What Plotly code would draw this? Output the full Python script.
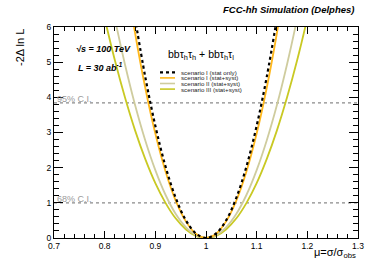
import plotly.graph_objects as go

# ---- data ----
mu_stat_only = [0.86, 0.88, 0.90, 0.92, 0.94, 0.96, 0.98, 1.00, 1.02, 1.04, 1.06, 1.08, 1.10, 1.12, 1.14]
nll_stat_only = [6.25, 4.59, 3.19, 2.04, 1.15, 0.51, 0.13, 0.0, 0.13, 0.51, 1.15, 2.04, 3.19, 4.59, 6.25]

mu_sc1 = [0.84, 0.86, 0.88, 0.90, 0.92, 0.94, 0.96, 0.98, 1.00, 1.02, 1.04, 1.06, 1.08, 1.10, 1.12, 1.14, 1.16]
nll_sc1 = [7.61, 5.83, 4.28, 2.97, 1.90, 1.07, 0.48, 0.12, 0.0, 0.12, 0.48, 1.07, 1.90, 2.97, 4.28, 5.83, 7.61]

mu_sc2 = [0.80, 0.82, 0.84, 0.86, 0.88, 0.90, 0.92, 0.94, 0.96, 0.98, 1.00,
          1.02, 1.04, 1.06, 1.08, 1.10, 1.12, 1.14, 1.16, 1.18, 1.20]
nll_sc2 = [7.72, 6.25, 4.94, 3.78, 2.78, 1.93, 1.23, 0.69, 0.31, 0.08, 0.0,
           0.08, 0.31, 0.69, 1.23, 1.93, 2.78, 3.78, 4.94, 6.25, 7.72]

mu_sc3 = [0.78, 0.80, 0.82, 0.84, 0.86, 0.88, 0.90, 0.92, 0.94, 0.96, 0.98, 1.00,
          1.02, 1.04, 1.06, 1.08, 1.10, 1.12, 1.14, 1.16, 1.18, 1.20, 1.22]
nll_sc3 = [7.56, 6.25, 5.06, 4.00, 3.06, 2.25, 1.56, 1.00, 0.56, 0.25, 0.06, 0.0,
           0.06, 0.25, 0.56, 1.00, 1.56, 2.25, 3.06, 4.00, 5.06, 6.25, 7.56]

ci_levels = [3.84, 1.0]
ci_labels = ["95% C.I.", "68% C.I."]

legend_labels = ["scenario I (stat only)", "scenario I (stat+syst)",
                 "scenario II (stat+syst)", "scenario III (stat+syst)"]

# ---- styles ----
C_BLACK = "#000000"
C_ORANGE = "#FFB81C"
C_BEIGE = "#CFCC9E"
C_YELLOW = "#C9C923"
FONT = "Liberation Sans, Arial, Helvetica, sans-serif"

W, H = 390, 265
L, R, T, B = 54, 32, 27, 27
PW, PH = W - L - R, H - T - B


def px(x):
    return (x - L) / PW


def py(y):
    return (H - B - y) / PH


fig = go.Figure()

series = [
    (mu_sc3, nll_sc3, C_YELLOW, "solid", 1.8),
    (mu_sc2, nll_sc2, C_BEIGE, "solid", 1.8),
    (mu_sc1, nll_sc1, C_ORANGE, "solid", 1.8),
    (mu_stat_only, nll_stat_only, C_BLACK, "dot", 2.2),
]
for xs, ys, col, dash, w in series:
    fig.add_trace(go.Scatter(x=xs, y=ys, mode="lines",
                             line=dict(color=col, dash=dash, width=w, shape="spline", smoothing=1.0),
                             showlegend=False, hoverinfo="skip", cliponaxis=True))

shapes = []
annotations = []

for lvl, lab in zip(ci_levels, ci_labels):
    shapes.append(dict(type="line", xref="paper", yref="y", x0=0, x1=1, y0=lvl, y1=lvl,
                       line=dict(color="#8a8a8a", width=1.3, dash="dot"), layer="below"))
    annotations.append(dict(xref="x", yref="y", x=0.702, y=lvl, text=lab, showarrow=False,
                            xanchor="left", yanchor="bottom", yshift=-3,
                            font=dict(family=FONT, size=9, color="#9a9a9a")))

# legend (drawn manually)
leg_cols = [C_BLACK, C_ORANGE, C_BEIGE, C_YELLOW]
leg_dash = ["dot", "solid", "solid", "solid"]
leg_w = [2.2, 1.6, 1.6, 1.6]
leg_y = [72.3, 77.9, 83.5, 89.1]
for lab, col, d, lw, yy in zip(legend_labels, leg_cols, leg_dash, leg_w, leg_y):
    shapes.append(dict(type="line", xref="paper", yref="paper", x0=px(160), x1=px(175),
                       y0=py(yy), y1=py(yy), line=dict(color=col, width=lw, dash=d)))
    annotations.append(dict(xref="paper", yref="paper", x=px(179), y=py(yy), text=lab,
                            showarrow=False, xanchor="left", yanchor="middle",
                            font=dict(family=FONT, size=6.2, color="#222")))

annotations += [
    dict(xref="paper", yref="paper", x=px(166), y=py(55),
         text="bbτ<sub>h</sub>τ<sub>h</sub> + bbτ<sub>h</sub>τ<sub>l</sub>",
         showarrow=False, xanchor="left", yanchor="middle",
         font=dict(family=FONT, size=10.5, color="black")),
    dict(xref="paper", yref="paper", x=px(74), y=py(49),
         text="<b><i>√s = 100 TeV</i></b>", showarrow=False, xanchor="left", yanchor="middle",
         font=dict(family=FONT, size=9, color="black")),
    dict(xref="paper", yref="paper", x=px(76), y=py(67),
         text="<b><i>L = 30 ab<sup>-1</sup></i></b>", showarrow=False, xanchor="left", yanchor="middle",
         font=dict(family=FONT, size=9, color="black")),
    dict(xref="paper", yref="paper", x=px(356), y=py(9),
         text="<b><i>FCC-hh Simulation (Delphes)</i></b>", showarrow=False,
         xanchor="right", yanchor="middle",
         font=dict(family=FONT, size=9.5, color="black")),
    dict(xref="paper", yref="paper", x=px(20), y=py(48),
         text="-2Δ ln L", textangle=-90, showarrow=False, xanchor="center", yanchor="middle",
         font=dict(family=FONT, size=11, color="black")),
    dict(xref="paper", yref="paper", x=px(358), y=py(253),
         text="μ=σ/σ<sub>obs</sub>", showarrow=False, xanchor="right", yanchor="middle",
         font=dict(family=FONT, size=11, color="black")),
]

axis_common = dict(showgrid=False, zeroline=False, showline=True, linecolor="black", linewidth=1,
                   mirror="ticks", ticks="inside", tickcolor="black", tickwidth=1,
                   tickfont=dict(family=FONT, size=8.5, color="black"))

fig.update_layout(
    width=W, height=H, margin=dict(l=L, r=R, t=T, b=B),
    plot_bgcolor="white", paper_bgcolor="white",
    xaxis=dict(range=[0.7, 1.3], dtick=0.1, tick0=0.7, ticklen=7,
               minor=dict(dtick=0.02, ticks="inside", ticklen=4, tickcolor="black"),
               **axis_common),
    yaxis=dict(range=[0, 6], dtick=1, ticklen=9,
               minor=dict(dtick=0.2, ticks="inside", ticklen=5, tickcolor="black"),
               **axis_common),
    shapes=shapes, annotations=annotations,
)

fig.write_html("out.html", config={"displayModeBar": False},
               post_script="document.body.style.margin='0';document.body.style.padding='0';")
